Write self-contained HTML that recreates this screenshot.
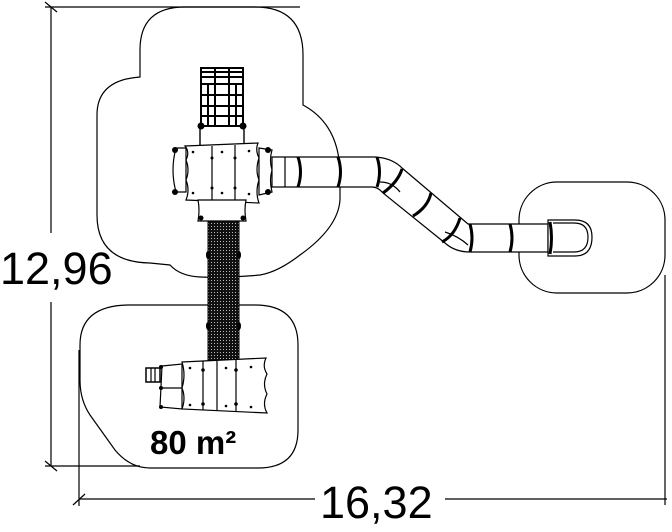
<!DOCTYPE html>
<html><head><meta charset="utf-8"><style>
html,body{margin:0;padding:0;background:#fff;}
svg{display:block;}
</style></head><body>
<svg width="672" height="532" viewBox="0 0 672 532" xmlns="http://www.w3.org/2000/svg">
<defs>
<pattern id="net" width="3" height="3" patternUnits="userSpaceOnUse">
<rect width="3" height="3" fill="#111"/><rect x="1" y="1" width="1" height="1" fill="#bbb"/>
</pattern>
</defs>
<g fill="none" stroke="#000" stroke-width="1.2">
<line x1="51" y1="7" x2="51" y2="233"/>
<line x1="51" y1="302" x2="51" y2="466"/>
<line x1="45" y1="7" x2="300" y2="7"/>
<line x1="45" y1="2" x2="57" y2="12"/>
<line x1="45" y1="466" x2="140" y2="466"/>
<line x1="45" y1="461" x2="57" y2="471"/>
<line x1="79" y1="350" x2="79" y2="506"/>
<line x1="79" y1="499" x2="315" y2="499"/>
<line x1="445" y1="499" x2="667" y2="499"/>
<line x1="73" y1="505" x2="85" y2="494"/>
<line x1="665" y1="275" x2="665" y2="505"/>
<path d="M140,77 L140,50 Q140,7 185,7 L255,7 Q303,7 303,55 L303,105 Q340,125 340,175 L340,200 Q338,228 300,255 Q278,272 260,275 Q230,278 200,277 Q180,276 170,265 L150,263 Q97,262 97,215 L97,115 Q97,80 140,77 Z"/>
<path d="M130,305 L255,305 Q298,305 298,345 L298,430 Q298,468 258,468 L150,468 Q130,468 115,450 L90,415 Q80,400 80,380 L80,345 Q80,305 130,305 Z"/>
<rect x="519" y="182" width="146" height="111" rx="38"/>
</g>
<g fill="#fff" stroke="#000" stroke-width="1.2">
<path d="M272,157 L375,157 Q392,158 402,168 L468,224 L548,224 L548,252 L470,252 Q455,252 445,243 L383,193 Q378,187 372,187 L272,187 Z"/>
<path d="M548,220 L575,220 Q592,220 592,237 Q592,256 575,256 L548,256 Z"/>
<path d="M553,223 L574,223 Q588,223 588,237 Q588,252 574,252 L553,252" fill="none"/>
<line x1="285" y1="157" x2="285" y2="187"/>
<path d="M380,182 Q392,182 400,192" fill="none"/>
<path d="M445,232 Q458,236 468,245" fill="none"/>
</g>
<g fill="none" stroke="#000" stroke-width="3">
<path d="M298,157 Q303,172 298,187"/>
<path d="M338,157 Q343,172 338,187"/>
<path d="M377,157 Q382,172 377,187"/>
<path d="M402,169 Q398,182 383,193"/>
<path d="M431,193 Q428,207 413,216"/>
<path d="M460,218 Q455,235 442,242"/>
<path d="M470,224 Q474,238 470,252"/>
<path d="M510,224 Q514,238 510,252"/>
<path d="M550,222 Q553,238 550,254"/>
</g>
<g stroke="#000" stroke-width="2" fill="none">
<rect x="201" y="68" width="42" height="58"/>
<line x1="215" y1="68" x2="215" y2="126"/><line x1="229" y1="68" x2="229" y2="126"/>
<line x1="201" y1="72" x2="243" y2="72"/><line x1="201" y1="77" x2="243" y2="77"/><line x1="201" y1="84" x2="243" y2="84"/>
<line x1="201" y1="95" x2="243" y2="95"/><line x1="201" y1="106" x2="243" y2="106"/><line x1="201" y1="116" x2="243" y2="116"/>
<line x1="208" y1="84" x2="208" y2="126"/><line x1="236" y1="84" x2="236" y2="126"/>
<rect x="200" y="126" width="44" height="20" stroke-width="1.4"/>
</g>
<circle cx="201" cy="126" r="3.5"/><circle cx="243" cy="126" r="3.5"/>
<g stroke="#000" stroke-width="1.2" fill="#fff">
<path d="M176,148 Q170,170 176,192 L186,192 L186,148 Z"/>
<path d="M185,146 L258,143 Q255,150 259,158 Q255,170 259,180 Q255,192 259,203 L186,200 Q190,190 186,180 Q190,170 186,160 Q190,152 185,146 Z"/>
<path d="M259,148 L272,150 Q269,160 272,170 Q269,180 272,192 L259,195 Z"/>
<line x1="212" y1="146" x2="212" y2="201"/><line x1="235" y1="145" x2="235" y2="202"/>
<path d="M198,200 L246,200 Q244,210 246,221 L198,221 Q200,210 198,200 Z"/>
</g>
<g fill="#000">
<circle cx="175" cy="150" r="3"/><circle cx="175" cy="192" r="3"/>
<circle cx="268" cy="150" r="3"/><circle cx="268" cy="192" r="3"/>
<circle cx="201" cy="218" r="2.5"/><circle cx="243" cy="218" r="2.5"/>
<circle cx="193" cy="152" r="1.3"/><circle cx="193" cy="193" r="1.3"/><circle cx="222" cy="152" r="1.3"/><circle cx="222" cy="193" r="1.3"/><circle cx="249" cy="151" r="1.3"/><circle cx="249" cy="194" r="1.3"/>
<circle cx="212" cy="158" r="1.5"/><circle cx="212" cy="188" r="1.5"/><circle cx="235" cy="158" r="1.5"/><circle cx="235" cy="188" r="1.5"/>
</g>
<rect x="208" y="221" width="31" height="140" fill="url(#net)" stroke="#000"/>
<g fill="#000"><ellipse cx="208" cy="255" rx="2" ry="4"/><ellipse cx="239" cy="255" rx="2" ry="4"/>
<ellipse cx="208" cy="326" rx="2" ry="4"/><ellipse cx="239" cy="326" rx="2" ry="4"/></g>
<g stroke="#000" stroke-width="1.2" fill="#fff">
<path d="M162,366 L182,364 L182,409 L160,407 Z"/>
<line x1="162" y1="388" x2="182" y2="388"/>
<rect x="146" y="368" width="14" height="14" stroke-width="1.5"/>
<line x1="151" y1="368" x2="151" y2="382"/><line x1="155" y1="368" x2="155" y2="382"/>
<path d="M182,362 L266,358 Q262,366 267,374 Q262,384 267,394 Q262,404 267,413 L182,409 Q186,398 182,388 Q186,375 182,362 Z"/>
<line x1="203" y1="361" x2="203" y2="410"/><line x1="217" y1="361" x2="217" y2="410"/><line x1="236" y1="360" x2="236" y2="411"/>
</g>
<g fill="#000">
<circle cx="161" cy="367" r="2"/><circle cx="161" cy="388" r="2"/><circle cx="161" cy="407" r="2"/>
<circle cx="203" cy="370" r="1.8"/><circle cx="203" cy="404" r="1.8"/><circle cx="236" cy="370" r="1.8"/><circle cx="236" cy="404" r="1.8"/>
<circle cx="190" cy="368" r="1.3"/><circle cx="190" cy="405" r="1.3"/><circle cx="226" cy="368" r="1.3"/><circle cx="226" cy="406" r="1.3"/><circle cx="251" cy="367" r="1.3"/><circle cx="251" cy="407" r="1.3"/>
</g>
<g font-family="Liberation Sans, sans-serif" fill="#000">
<text x="0" y="284" font-size="45" font-weight="300">12,96</text>
<text x="320" y="518" font-size="45">16,32</text>
<text x="150" y="454" font-size="33" font-weight="bold">80 m²</text>
</g>
</svg>
</body></html>
